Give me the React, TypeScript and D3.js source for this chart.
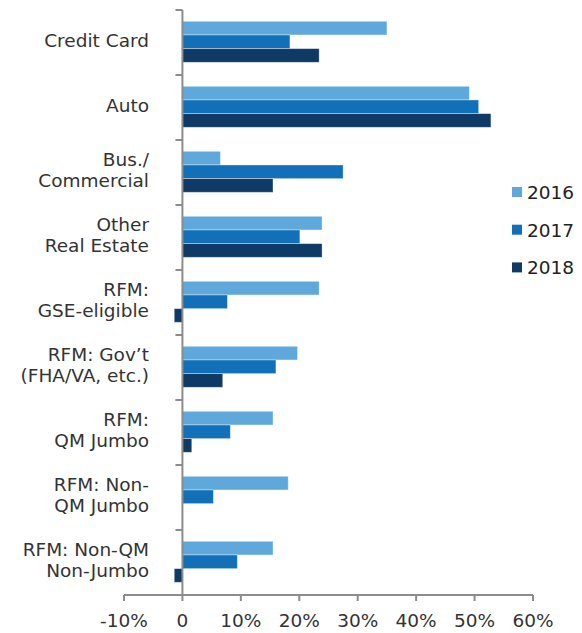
import React from "react";
import * as d3 from "d3";

const categories: string[][] = [
  ["Credit Card"],
  ["Auto"],
  ["Bus./", "Commercial"],
  ["Other", "Real Estate"],
  ["RFM:", "GSE-eligible"],
  ["RFM: Gov’t", "(FHA/VA, etc.)"],
  ["RFM:", "QM Jumbo"],
  ["RFM: Non-", "QM Jumbo"],
  ["RFM: Non-QM", "Non-Jumbo"],
];
const seriesNames = ["2016", "2017", "2018"];
const values2016 = [35.0, 49.1, 6.5, 23.9, 23.4, 19.7, 15.5, 18.1, 15.5];
const values2017 = [18.4, 50.7, 27.5, 20.1, 7.7, 16.0, 8.2, 5.3, 9.4];
const values2018 = [23.4, 52.8, 15.5, 23.9, -1.4, 6.9, 1.6, 0, -1.4];
const seriesColors = ["#5ea8db", "#1270b8", "#0f3a66"];
const xTicks = [-10, 0, 10, 20, 30, 40, 50, 60];

export default function App() {
  const W = 582;
  const H = 633;
  const font = "'DejaVu Sans', sans-serif";
  const fs = 18.5;
  const textColor = "#333";
  const axisColor = "#8c8c8c";

  const x = d3.scaleLinear().domain([-10, 60]).range([124, 533]);
  const y = d3
    .scaleBand<number>()
    .domain(categories.map((_, i) => i))
    .range([10, 595])
    .padding(0);
  const inner = d3
    .scaleBand<string>()
    .domain(seriesNames)
    .range([11.3, 52.3])
    .padding(0);

  const data = [values2016, values2017, values2018];
  const x0 = x(0);
  const boundaries = d3.range(categories.length + 1).map((i) => 10 + i * y.step());
  const lineGap = 21.5;

  return (
    <svg
      width={W}
      height={H}
      style={{ position: "absolute", left: 0, top: 0, background: "#fff" }}
      fontFamily={font}
    >
      {/* bars */}
      {categories.map((_, ci) =>
        seriesNames.map((s, si) => {
          const v = data[si][ci];
          if (v === 0) return null;
          const xa = x(Math.min(0, v));
          const xb = x(Math.max(0, v));
          return (
            <rect
              key={`${ci}-${si}`}
              x={xa}
              y={(y(ci) as number) + (inner(s) as number)}
              width={xb - xa}
              height={inner.bandwidth()}
              fill={seriesColors[si]}
              stroke="#ffffff"
              strokeOpacity={0.45}
              strokeWidth={0.8}
            />
          );
        })
      )}

      {/* y axis */}
      <line x1={x0} x2={x0} y1={10} y2={595} stroke={axisColor} strokeWidth={2} />
      {boundaries.slice(0, -1).map((b, i) => (
        <line key={i} x1={x0 - 7} x2={x0} y1={b} y2={b} stroke={axisColor} strokeWidth={2} />
      ))}

      {/* x axis */}
      <line x1={x(-10)} x2={x(60)} y1={595} y2={595} stroke={axisColor} strokeWidth={2} />
      {xTicks.map((t) => (
        <g key={t}>
          <line x1={x(t)} x2={x(t)} y1={595} y2={601} stroke={axisColor} strokeWidth={2} />
          <text
            x={x(t)}
            y={627}
            textAnchor="middle"
            fontSize={fs}
            fill={textColor}
          >
            {t === 0 ? "0" : `${t}%`}
          </text>
        </g>
      ))}

      {/* category labels */}
      {categories.map((lines, ci) => {
        const c = (y(ci) as number) + y.bandwidth() / 2;
        const n = lines.length;
        return (
          <text key={ci} textAnchor="end" fontSize={fs} fill={textColor}>
            {lines.map((l, li) => (
              <tspan
                key={li}
                x={149}
                y={c + 4 + (li - (n - 1) / 2) * lineGap}
              >
                {l}
              </tspan>
            ))}
          </text>
        );
      })}

      {/* legend */}
      {seriesNames.map((s, i) => {
        const cy = 192 + i * 37.7;
        return (
          <g key={s}>
            <rect x={512} y={cy - 5} width={10} height={10} fill={seriesColors[i]} />
            <text x={527} y={cy + 6.8} fontSize={fs} fill="#222">
              {s}
            </text>
          </g>
        );
      })}
    </svg>
  );
}
